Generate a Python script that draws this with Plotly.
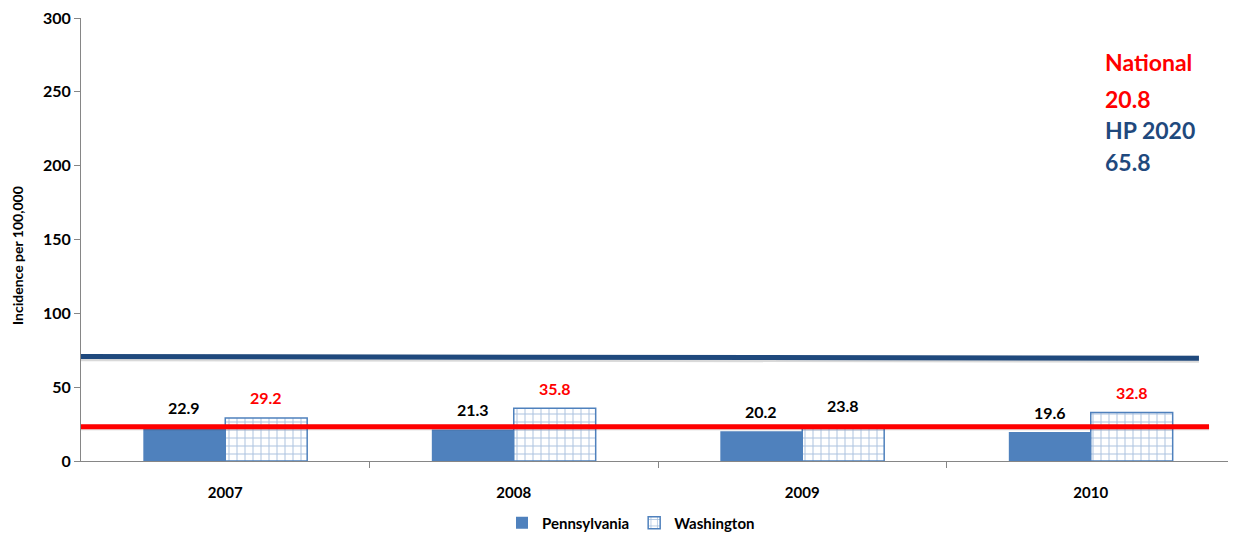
import plotly.graph_objects as go

years = ["2007", "2008", "2009", "2010"]
pennsylvania = [22.9, 21.3, 20.2, 19.6]
washington = [29.2, 35.8, 23.8, 32.8]
pennsylvania_label_colors = ["#000000", "#000000", "#000000", "#000000"]
washington_label_colors = ["#FF0000", "#FF0000", "#000000", "#FF0000"]

national_line_x = [-0.5, 3.41]
national_line_y = [23.2, 23.2]
hp2020_line_x = [-0.5, 3.375]
hp2020_line_y = [70.7, 69.6]

y_ticks = [0, 50, 100, 150, 200, 250, 300]

FONT = "Lato"
BLUE = "#4F81BD"
NAVY = "#1F497D"
RED = "#FF0000"
AXIS = "#868686"

# page geometry (the html body adds an 8px offset)
OFF = 8
PL, PR, PT, PB = 81, 1235, 18, 461
PW, PH = PR - PL, PB - PT

xpos = list(range(len(years)))

fig = go.Figure()

fig.add_trace(go.Bar(
    name="<b>Pennsylvania</b>", x=xpos, y=pennsylvania,
    marker=dict(color=BLUE, line=dict(color=BLUE, width=0)),
))
fig.add_trace(go.Bar(
    name="<b>Washington</b>", x=xpos, y=washington,
    marker=dict(color="#FFFFFF", line=dict(color=BLUE, width=1.5),
                pattern=dict(shape="+", fgcolor=BLUE, bgcolor="#FFFFFF",
                             size=8, solidity=0.22)),
))

# shadows
fig.add_trace(go.Scatter(x=hp2020_line_x, y=[v - 0.7 for v in hp2020_line_y], mode="lines",
                         line=dict(color="rgba(0,0,0,0.15)", width=7),
                         showlegend=False, hoverinfo="skip"))
fig.add_trace(go.Scatter(x=national_line_x, y=[v - 0.5 for v in national_line_y], mode="lines",
                         line=dict(color="rgba(0,0,0,0.10)", width=6),
                         showlegend=False, hoverinfo="skip"))
fig.add_trace(go.Scatter(x=national_line_x, y=national_line_y, mode="lines",
                         line=dict(color=RED, width=5), showlegend=False, hoverinfo="skip"))
fig.add_trace(go.Scatter(x=hp2020_line_x, y=hp2020_line_y, mode="lines",
                         line=dict(color=NAVY, width=5), showlegend=False, hoverinfo="skip"))

# value labels above bars
for i in xpos:
    fig.add_annotation(x=i, y=pennsylvania[i], xshift=-41, yshift=20, yanchor="middle",
                       text=f"<b>{pennsylvania[i]:.1f}</b>", showarrow=False,
                       font=dict(family=FONT, size=16, color=pennsylvania_label_colors[i]))
    fig.add_annotation(x=i, y=washington[i], xshift=41, yshift=20, yanchor="middle",
                       text=f"<b>{washington[i]:.1f}</b>", showarrow=False,
                       font=dict(family=FONT, size=16, color=washington_label_colors[i]))

ann_lines = [("National", RED, 62), ("20.8", RED, 99), ("HP 2020", NAVY, 130), ("65.8", NAVY, 162)]
for txt, col, ypx in ann_lines:
    fig.add_annotation(xref="paper", yref="paper", x=(1103 - PL) / PW, xanchor="left",
                       y=(PB - ypx) / PH, yanchor="middle", text=f"<b>{txt}</b>",
                       showarrow=False, font=dict(family=FONT, size=23, color=col))

fig.add_annotation(xref="paper", yref="paper", x=0, xshift=17 - PL, xanchor="center",
                   y=(PB - 256) / PH, yanchor="middle", textangle=-90,
                   text="<b>Incidence per 100,000</b>", showarrow=False,
                   font=dict(family=FONT, size=14, color="#000000"))

W, H = 1236 - OFF, 536 - OFF
fig.update_layout(
    width=W, height=H,
    margin=dict(l=PL - OFF, r=W - (PR - OFF), t=PT - OFF, b=H - (PB - OFF), autoexpand=False),
    plot_bgcolor="#FFFFFF", paper_bgcolor="#FFFFFF",
    barmode="group", bargap=0.432, bargroupgap=0,
    showlegend=True,
    legend=dict(orientation="h", x=(631 - PL) / PW, xanchor="center",
                y=(PB - 523) / PH, yanchor="middle",
                font=dict(family=FONT, size=15, color="#000000"),
                itemwidth=30, traceorder="normal"),
    font=dict(family=FONT),
    xaxis=dict(range=[-0.5, 3.5], tickmode="array", tickvals=xpos,
               ticktext=[f"<b>{y}</b>" for y in years], ticks="", automargin=False,
               showline=True, linecolor=AXIS, linewidth=1, showgrid=False, zeroline=False,
               tickfont=dict(family=FONT, size=15, color="#000000"),
               ticklabelstandoff=18,
               minor=dict(tickmode="array", tickvals=[0.5, 1.5, 2.5, 3.5], ticks="outside",
                          ticklen=6, tickcolor=AXIS, tickwidth=1, showgrid=False)),
    yaxis=dict(range=[0, 300], tickmode="array", tickvals=y_ticks,
               ticktext=[f"<b>{v}</b>" for v in y_ticks], automargin=False,
               ticklabeloverflow="allow",
               ticks="outside", ticklen=6, tickcolor=AXIS,
               showline=True, linecolor=AXIS, linewidth=1, showgrid=False, zeroline=False,
               tickfont=dict(family=FONT, size=16, color="#000000")),
)

fig.write_html("out.html")
